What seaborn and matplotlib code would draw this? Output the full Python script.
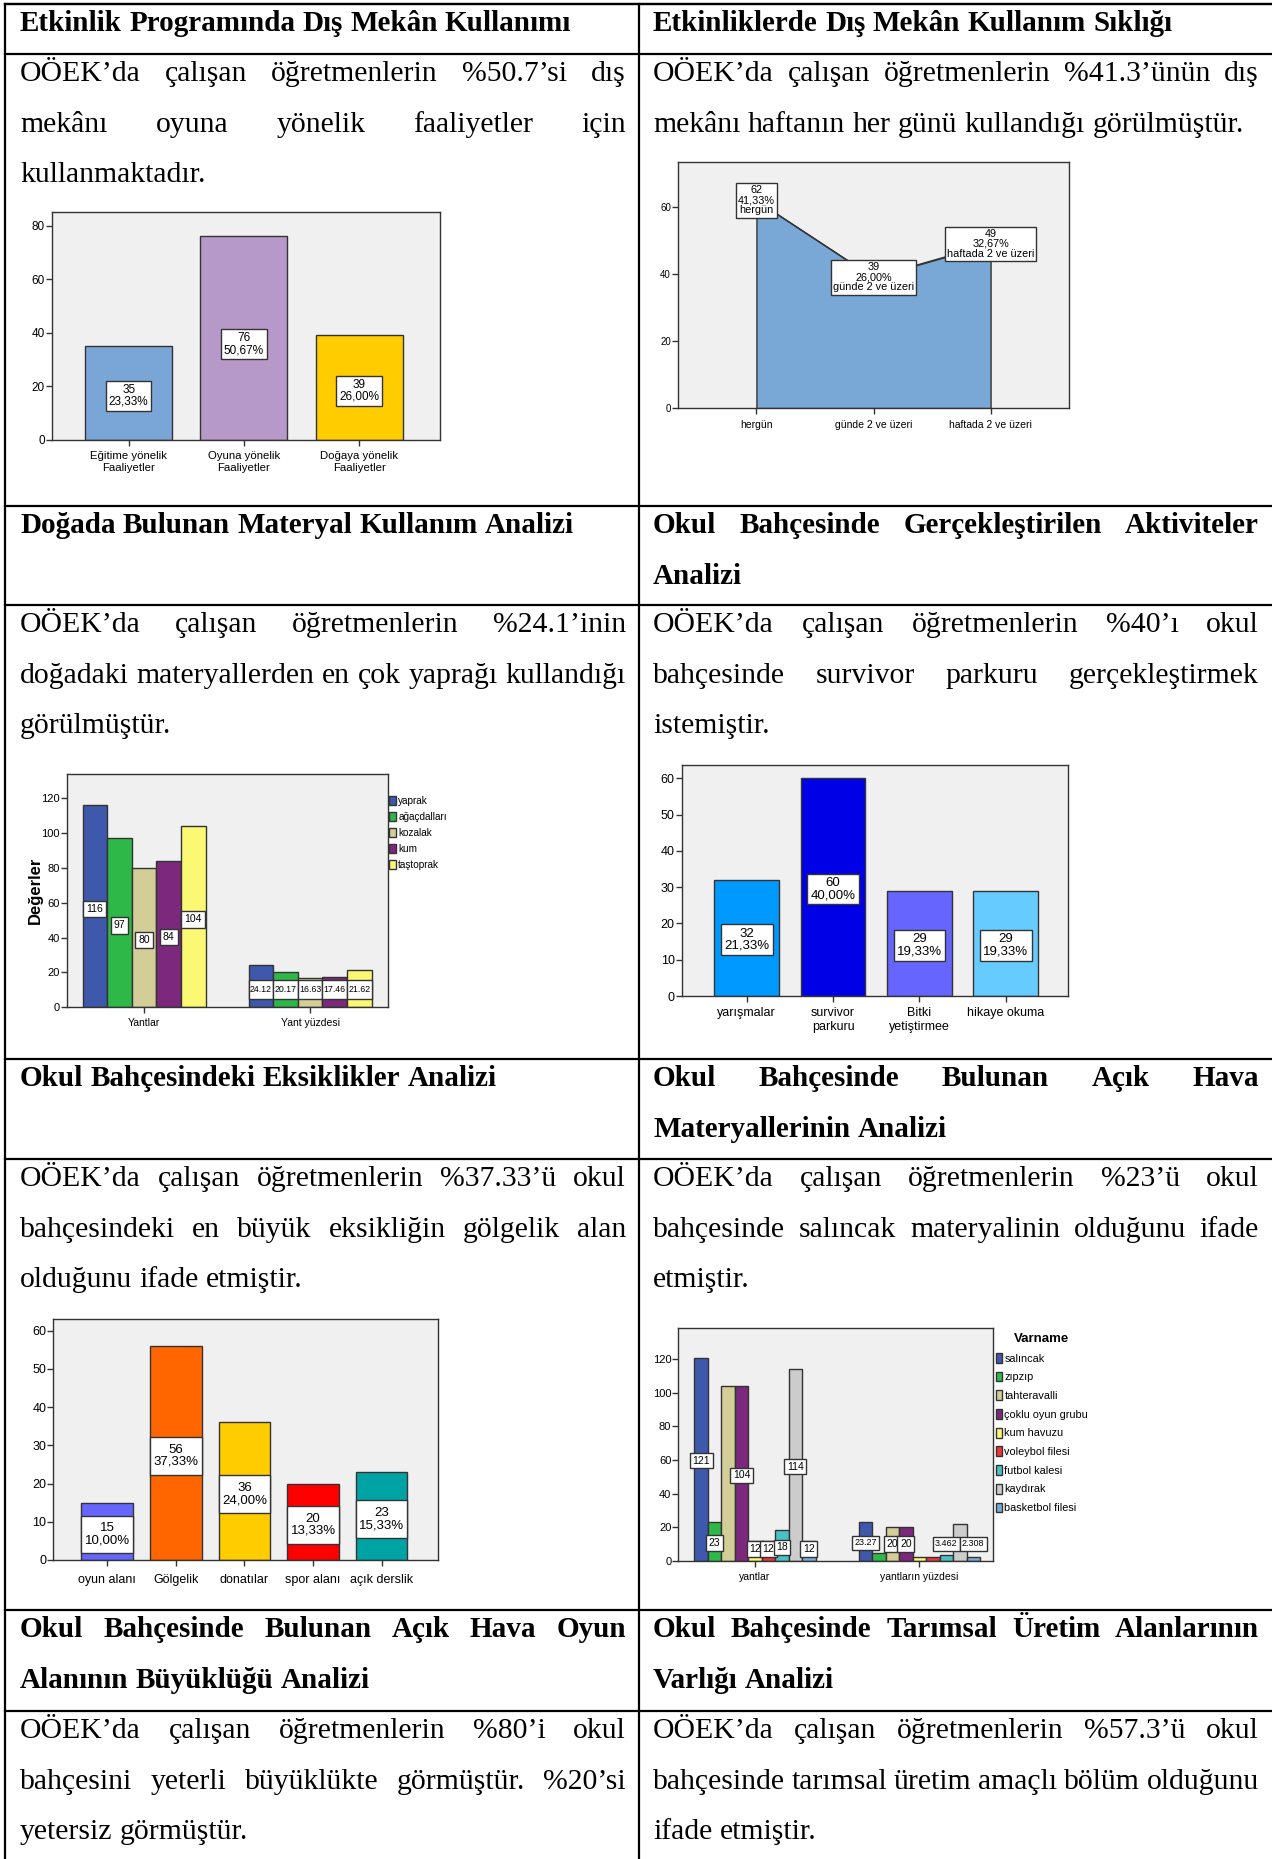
import matplotlib
matplotlib.use("Agg")
import matplotlib.pyplot as plt
import pandas as pd
import seaborn as sns

W, H = 1272, 1859
SERIF = 'Liberation Serif'
SANS = 'Liberation Sans'
KENAR = '#333333'

# --- veriler ---
c1_kat = ['Eğitime yönelik\nFaaliyetler', 'Oyuna yönelik\nFaaliyetler', 'Doğaya yönelik\nFaaliyetler']
c1_n = [35, 76, 39]
c1_yuzde = ['23,33%', '50,67%', '26,00%']
c1_renk = ['#79A6D6', '#B799C9', '#FFCC00']

c2_kat = ['hergün', 'günde 2 ve üzeri', 'haftada 2 ve üzeri']
c2_n = [62, 39, 49]
c2_yuzde = ['41,33%', '26,00%', '32,67%']

c3_grup = ['Yantlar', 'Yant yüzdesi']
c3_seri = ['yaprak', 'ağaçdalları', 'kozalak', 'kum', 'taştoprak']
c3_yanit = [116, 97, 80, 84, 104]
c3_yuzde = [24.12, 20.17, 16.63, 17.46, 21.62]
c3_renk = ['#3E58AC', '#2EB848', '#D3CE97', '#7C287D', '#FBF873']

c4_kat = ['yarışmalar', 'survivor\nparkuru', 'Bitki\nyetiştirmee', 'hikaye okuma']
c4_n = [32, 60, 29, 29]
c4_yuzde = ['21,33%', '40,00%', '19,33%', '19,33%']
c4_renk = ['#0099FF', '#0000E6', '#6666FF', '#66CCFF']

c5_kat = ['oyun alanı', 'Gölgelik', 'donatılar', 'spor alanı', 'açık derslik']
c5_n = [15, 56, 36, 20, 23]
c5_yuzde = ['10,00%', '37,33%', '24,00%', '13,33%', '15,33%']
c5_renk = ['#6666FF', '#FF6600', '#FFCC00', '#FF0000', '#00A3A3']

c6_grup = ['yantlar', 'yantların yüzdesi']
c6_seri = ['salıncak', 'zıpzıp', 'tahteravalli', 'çoklu oyun grubu', 'kum havuzu',
           'voleybol filesi', 'futbol kalesi', 'kaydırak', 'basketbol filesi']
c6_yanit = [121, 23, 104, 104, 12, 12, 18, 114, 12]
c6_yuzde = [23.27, 4.423, 20, 20, 2.308, 2.308, 3.462, 21.92, 2.308]
c6_etiket_yanit = ['121', '23', None, '104', '12', '12', '18', '114', '12']
c6_etiket_yuzde = ['23.27', None, '20', '20', None, None, '3.462', None, '2.308']
c6_renk = ['#3E58AC', '#2EB848', '#D3CE97', '#7C287D', '#FBF873',
           '#EF3338', '#48C2C5', '#CCCCCC', '#7AAAD5']

# --- tablo metinleri ---
basliklar = [
    (['Etkinlik Programında Dış Mekân Kullanımı'],
     ['Etkinliklerde Dış Mekân Kullanım Sıklığı']),
    (['Doğada Bulunan Materyal Kullanım Analizi'],
     ['Okul Bahçesinde Gerçekleştirilen Aktiviteler', 'Analizi']),
    (['Okul Bahçesindeki Eksiklikler Analizi'],
     ['Okul Bahçesinde Bulunan Açık Hava', 'Materyallerinin Analizi']),
    (['Okul Bahçesinde Bulunan Açık Hava Oyun', 'Alanının Büyüklüğü Analizi'],
     ['Okul Bahçesinde Tarımsal Üretim Alanlarının', 'Varlığı Analizi']),
]
metinler = [
    (['OÖEK’da çalışan öğretmenlerin %50.7’si dış', 'mekânı oyuna yönelik faaliyetler için', 'kullanmaktadır.'],
     ['OÖEK’da çalışan öğretmenlerin %41.3’ünün dış', 'mekânı haftanın her günü kullandığı görülmüştür.']),
    (['OÖEK’da çalışan öğretmenlerin %24.1’inin', 'doğadaki materyallerden en çok yaprağı kullandığı', 'görülmüştür.'],
     ['OÖEK’da çalışan öğretmenlerin %40’ı okul', 'bahçesinde survivor parkuru gerçekleştirmek', 'istemiştir.']),
    (['OÖEK’da çalışan öğretmenlerin %37.33’ü okul', 'bahçesindeki en büyük eksikliğin gölgelik alan', 'olduğunu ifade etmiştir.'],
     ['OÖEK’da çalışan öğretmenlerin %23’ü okul', 'bahçesinde salıncak materyalinin olduğunu ifade', 'etmiştir.']),
    (['OÖEK’da çalışan öğretmenlerin %80’i okul', 'bahçesini yeterli büyüklükte görmüştür. %20’si', 'yetersiz görmüştür.'],
     ['OÖEK’da çalışan öğretmenlerin %57.3’ü okul', 'bahçesinde tarımsal üretim amaçlı bölüm olduğunu', 'ifade etmiştir.']),
]
satir_ust = [(4, 54), (506, 605), (1059, 1159), (1610, 1711)]

fig = plt.figure(figsize=(W / 100, H / 100), dpi=100)
page = fig.add_axes([0, 0, 1, 1])
page.set_xlim(0, W)
page.set_ylim(H, 0)
page.axis('off')
renderer = fig.canvas.get_renderer()


def yaz(metin, x0, x1, y, kalin, yasla):
    boy = 21 if kalin else 21.4
    kelimeler = metin.split()
    nesne = [page.text(0, y, k, fontsize=boy, family=SERIF, va='baseline', ha='left',
                       weight='bold' if kalin else 'normal') for k in kelimeler]
    gen = [n.get_window_extent(renderer).width for n in nesne]
    if yasla and len(kelimeler) > 1:
        bosluk = (x1 - x0 - sum(gen)) / (len(kelimeler) - 1)
    else:
        bosluk = 0.25 * boy * 100 / 72
    x = x0
    for n, g in zip(nesne, gen):
        n.set_x(x)
        x += g + bosluk


def hucre(satirlar, x0, x1, ust, kalin):
    for i, s in enumerate(satirlar):
        yaz(s, x0, x1, ust + 27 + i * 50.7, kalin, i < len(satirlar) - 1)


for (hu, mu), (bl, br), (ml, mr) in zip(satir_ust, basliklar, metinler):
    hucre(bl, 20, 626, hu, True)
    hucre(br, 653, 1259, hu, True)
    hucre(ml, 20, 626, mu, False)
    hucre(mr, 653, 1259, mu, False)

for y in [4] + [v for p in satir_ust for v in p]:
    page.plot([5, W], [y, y], color='black', lw=1.6)
page.plot([5, 5], [4, H], color='black', lw=1.6)
page.plot([639, 639], [4, H], color='black', lw=1.6)


def eksen(l, t, r, b):
    return fig.add_axes([l / W, 1 - b / H, (r - l) / W, (b - t) / H])


def sus(ax, ylim, xlim, yticks, boy, xboy=None):
    ax.set_facecolor('#F0F0F0')
    for s in ax.spines.values():
        s.set_color(KENAR)
        s.set_linewidth(1)
    ax.set_ylim(*ylim)
    ax.set_xlim(*xlim)
    ax.set_yticks(yticks)
    ax.tick_params(direction='out', length=4, width=1, color=KENAR, labelsize=boy, pad=1)
    ax.tick_params(axis='x', pad=4, labelsize=xboy or boy)
    for lab in ax.get_xticklabels() + ax.get_yticklabels():
        lab.set_family(SANS)
    ax.set_xlabel('')
    ax.set_ylabel('')


kutu = dict(boxstyle='square,pad=0.25', fc='white', ec=KENAR, lw=1)

# grafik 1
ax1 = eksen(51.7, 211.7, 440, 440)
sns.barplot(x=c1_kat, y=c1_n, hue=c1_kat, palette=c1_renk, width=0.754, saturation=1,
            edgecolor=KENAR, linewidth=1, legend=False, ax=ax1)
sus(ax1, (0, 85.2), (-0.667, 2.70), [0, 20, 40, 60, 80], 8.5, 8.2)
for bar, n, p in zip(sorted(ax1.patches, key=lambda b: b.get_x()), c1_n, c1_yuzde):
    ax1.text(bar.get_x() + bar.get_width() / 2, n * 0.47, f'{n}\n{p}', ha='center', va='center',
             fontsize=8.5, family=SANS, linespacing=1.0, bbox=kutu)

# grafik 2
ax2 = eksen(678, 162, 1069, 408)
xs = list(range(len(c2_n)))
ax2.fill_between(xs, c2_n, color='#79A8D6', edgecolor=KENAR, lw=1)
sns.lineplot(x=xs, y=c2_n, color=KENAR, lw=1, ax=ax2)
sus(ax2, (0, 73.5), (-0.67, 2.67), [0, 20, 40, 60], 7)
ax2.set_xticks(xs)
ax2.set_xticklabels(c2_kat, family=SANS, fontsize=7.5)
ax2.tick_params(axis='x', pad=5)
for x, n, p, k in zip(xs, c2_n, c2_yuzde, c2_kat):
    ax2.text(x, n, f'{n}\n{p}\n{k}', ha='center', va='center', fontsize=7.8, family=SANS,
             linespacing=1.0, bbox=dict(boxstyle='square,pad=0.2', fc='white', ec=KENAR, lw=1))

# grafik 3
ax3 = eksen(66.7, 774, 387.7, 1007.3)
df3 = pd.DataFrame({'grup': [g for g in c3_grup for _ in c3_seri],
                    'seri': c3_seri * 2,
                    'deger': c3_yanit + c3_yuzde})
sns.barplot(data=df3, x='grup', y='deger', hue='seri', palette=c3_renk, width=0.741,
            saturation=1, edgecolor=KENAR, linewidth=1, ax=ax3)
sus(ax3, (0, 134), (-0.466, 1.468), [0, 20, 40, 60, 80, 100, 120], 8, 7.5)
for cont, a, b in zip(ax3.containers, c3_yanit, c3_yuzde):
    ust, alt = cont[0], cont[1]
    ax3.text(ust.get_x() + ust.get_width() / 2, a / 2 - 1.5, f'{a}', ha='center', va='center',
             fontsize=7.5, family=SANS, bbox=dict(boxstyle='square,pad=0.3', fc='white', ec=KENAR, lw=1))
    xm = alt.get_x() + alt.get_width() / 2
    ax3.bar(xm, 11, bottom=4.5, width=alt.get_width(), color='white', edgecolor=KENAR, lw=1)
    ax3.text(xm, 10, f'{b:.2f}', ha='center', va='center', fontsize=6.3, family=SANS)
h3, l3 = ax3.get_legend_handles_labels()
ax3.legend(h3, l3, loc='upper left', bbox_to_anchor=(1.005, 0.905), frameon=False,
           prop=dict(family=SANS, size=7.2), handlelength=0.7, handleheight=1.0,
           handletextpad=0.2, labelspacing=0.6, borderaxespad=0, borderpad=0)
ax3.set_ylabel('Değerler', fontsize=12, weight='bold', family=SANS)
ax3.yaxis.set_label_coords(-0.075, 0.5)

# grafik 4
ax4 = eksen(681.7, 765, 1068, 996)
sns.barplot(x=c4_kat, y=c4_n, hue=c4_kat, palette=c4_renk, width=0.75, saturation=1,
            edgecolor=KENAR, linewidth=1, legend=False, ax=ax4)
sus(ax4, (0, 63.7), (-0.752, 3.72), [0, 10, 20, 30, 40, 50, 60], 9)
for bar, n, p in zip(sorted(ax4.patches, key=lambda b: b.get_x()), c4_n, c4_yuzde):
    ax4.text(bar.get_x() + bar.get_width() / 2, n / 2 - 0.5, f'{n}\n{p}', ha='center', va='center',
             fontsize=9.5, family=SANS, linespacing=1.0, bbox=kutu)

# grafik 5
ax5 = eksen(53.3, 1319.3, 438.3, 1560)
sns.barplot(x=c5_kat, y=c5_n, hue=c5_kat, palette=c5_renk, width=0.753, saturation=1,
            edgecolor=KENAR, linewidth=1, legend=False, ax=ax5)
sus(ax5, (0, 62.95), (-0.787, 4.826), [0, 10, 20, 30, 40, 50, 60], 9)
ax5.tick_params(axis='x', pad=6)
for bar, n, p in zip(sorted(ax5.patches, key=lambda b: b.get_x()), c5_n, c5_yuzde):
    xm = bar.get_x() + bar.get_width() / 2
    ym = n / 2 - 0.8
    ax5.bar(xm, 9.8, bottom=ym - 4.9, width=bar.get_width(), color='white', edgecolor=KENAR, lw=1)
    ax5.text(xm, ym, f'{n}\n{p}', ha='center', va='center', fontsize=9.5, family=SANS, linespacing=1.0)

# grafik 6
ax6 = eksen(678.3, 1328.3, 993.3, 1560.7)
df6 = pd.DataFrame({'grup': [g for g in c6_grup for _ in c6_seri],
                    'seri': c6_seri * 2,
                    'deger': c6_yanit + c6_yuzde})
sns.barplot(data=df6, x='grup', y='deger', hue='seri', palette=c6_renk, width=0.738,
            saturation=1, edgecolor=KENAR, linewidth=1, ax=ax6)
sus(ax6, (0, 138.5), (-0.467, 1.45), [0, 20, 40, 60, 80, 100, 120], 8, 7.5)
for cont, a, b, ea, eb in zip(ax6.containers, c6_yanit, c6_yuzde, c6_etiket_yanit, c6_etiket_yuzde):
    for bar, v, t, alt in zip(cont, [a, b], [ea, eb], [7, 10]):
        if t is None:
            continue
        ax6.text(bar.get_x() + bar.get_width() / 2, max(v / 2 - 1, alt), t, ha='center', va='center',
                 fontsize=6.5 if len(t) > 3 else 7.5, family=SANS,
                 bbox=dict(boxstyle='square,pad=0.25', fc='white', ec=KENAR, lw=1))
h6, l6 = ax6.get_legend_handles_labels()
leg6 = ax6.legend(h6, l6, loc='upper left', bbox_to_anchor=(1.008, 0.98), frameon=False, title='Varname',
                  prop=dict(family=SANS, size=7.8), handlelength=0.6, handleheight=1.0,
                  handletextpad=0.2, labelspacing=0.75, borderaxespad=0, borderpad=0)
leg6.get_title().set_fontproperties(dict(family=SANS, size=9.5, weight='bold'))

fig.savefig('out.png', dpi=100)
